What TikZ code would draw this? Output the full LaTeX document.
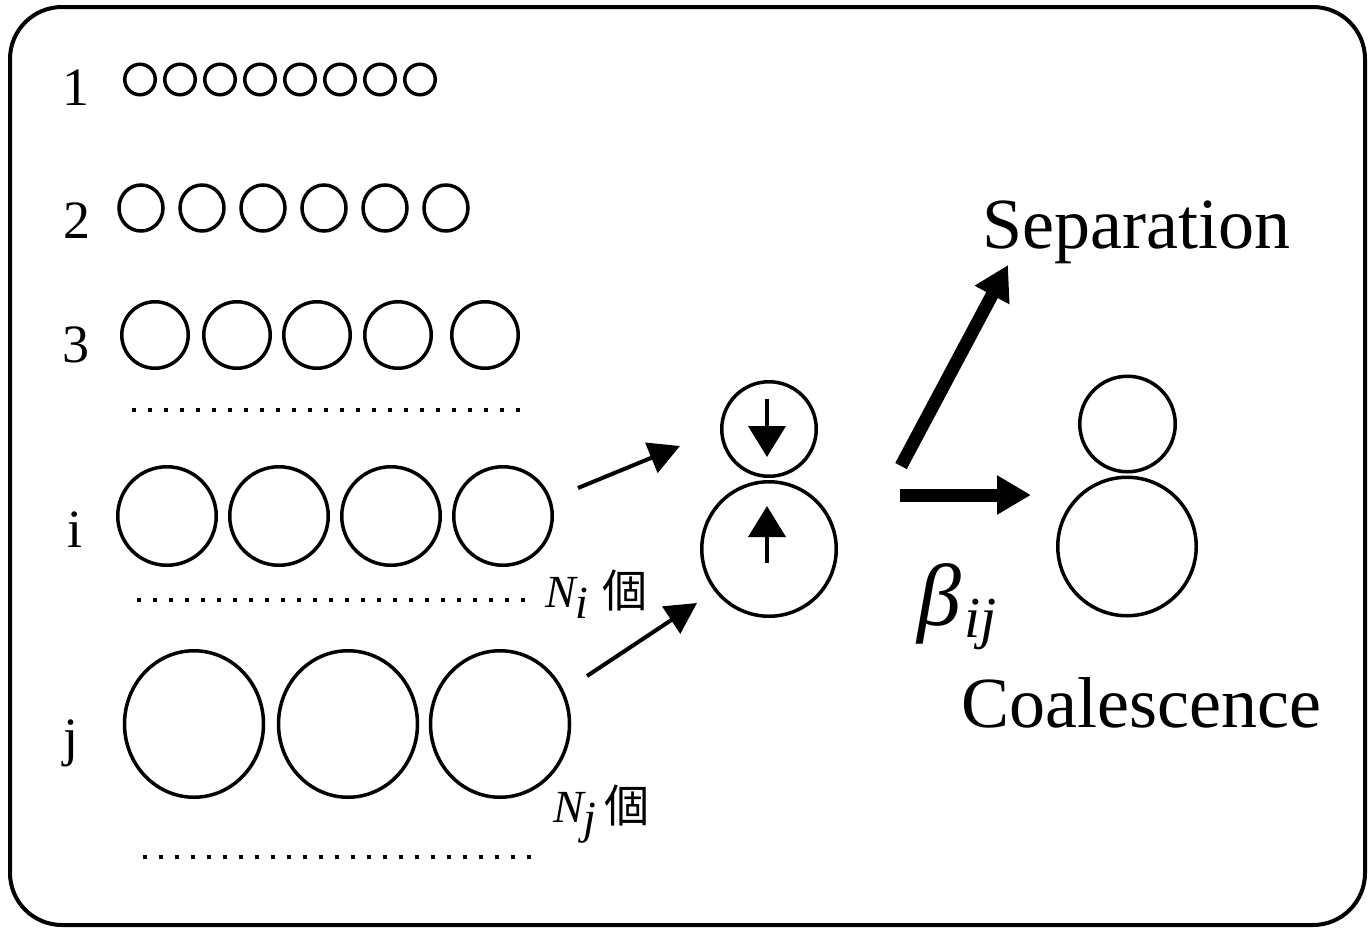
\documentclass[tikz,border=0pt]{standalone}
\usepackage{fontspec}
\setmainfont{Liberation Serif}
\newfontfamily\cjk{Noto Sans CJK JP}
\usetikzlibrary{arrows.meta,shapes.geometric}
\begin{document}
\begin{tikzpicture}[x=1pt,y=-1pt,
  bub/.style={draw, circle, line width=3.5pt, inner sep=0pt, minimum size=#1},
  ebub/.style={draw, ellipse, line width=3.5pt, inner sep=0pt},
  dotrow/.style={line width=3.5pt, dash pattern=on 3.5pt off 12.5pt},
  lab/.style={anchor=base, inner sep=0pt, font=\fontsize{54}{60}\selectfont},
  big/.style={anchor=base west, inner sep=0pt, font=\fontsize{72}{80}\selectfont},
  cnt/.style={anchor=base west, inner sep=0pt},
  thinarrow/.style={line width=4pt, -{Triangle[length=31pt,width=32pt]}},
  innerarrow/.style={line width=4pt, -{Triangle[length=31pt,width=37pt]}},
  fatarrow/.style={line width=13pt, -{Triangle[length=34pt,width=37pt]}},
]
\useasboundingbox (0,0) rectangle (1368,929);
\draw[line width=4pt, rounded corners=52pt] (10,7) rectangle (1365,925);

% row labels
\node[lab] (l1) at (76,105) {1};
\node[lab] (l2) at (77,238) {2};
\node[lab] (l3) at (76,362) {3};
\node[lab] (li) at (75,547) {i};
\node[lab] (lj) at (71,755) {j};

% row 1
\foreach \k in {0,...,7}
  \node[bub=30.5pt] (a\k) at ({140+40*\k},79.5) {};
% row 2
\foreach \k in {0,...,5}
  \node[ebub, minimum width=44pt, minimum height=46pt] (b\k) at ({141+61*\k},208) {};
% row 3
\foreach \x [count=\k] in {155,237,317,398,485}
  \node[bub=66.5pt] (c\k) at (\x,335) {};
\draw[dotrow] (132,410) -- (519.5,410);
% row i
\foreach \x [count=\k] in {167,279,391,503}
  \node[bub=98.5pt] (d\k) at (\x,516) {};
\draw[dotrow] (137,600) -- (524.5,600);
\node[cnt] (ni) at (545,607)
  {\fontsize{46}{48}\selectfont\itshape N\raisebox{-11pt}{i}\hspace{14pt}{\cjk\upshape\fontsize{45}{46}\selectfont 個}};
% row j
\foreach \x [count=\k] in {194,348,500}
  \node[ebub, minimum width=139pt, minimum height=146.5pt] (e\k) at (\x,724) {};
\draw[dotrow] (143,857) -- (530.5,857);
\node[cnt] (nj) at (553,822)
  {\fontsize{46}{48}\selectfont\itshape N\raisebox{-11pt}{j}\hspace{8pt}{\cjk\upshape\fontsize{45}{46}\selectfont 個}};

% colliding pair
\node[bub=94.5pt] (ps) at (769,429) {};
\node[bub=134.5pt] (pl) at (769,549) {};
\coordinate (dnA) at (767,399);
\coordinate (dnB) at (767,457);
\coordinate (upA) at (767,563);
\coordinate (upB) at (767,506);
\draw[innerarrow] (dnA) -- (dnB);
\draw[innerarrow] (upA) -- (upB);

% incoming arrows
\coordinate (iA) at (578,488);
\coordinate (iB) at (680,446);
\coordinate (jA) at (587,676);
\coordinate (jB) at (697,603);
\draw[thinarrow] (iA) -- (iB);
\draw[thinarrow] (jA) -- (jB);

% outcome arrows
\coordinate (sA) at (901,466);
\coordinate (sB) at (1008,265);
\coordinate (hA) at (900,495);
\coordinate (hB) at (1031,495);
\draw[fatarrow] (sA) -- (sB);
\draw[fatarrow] (hA) -- (hB);

% coalesced pair
\node[bub=95.5pt] (qs) at (1127.5,424) {};
\node[bub=138.5pt] (ql) at (1127,546.5) {};

% labels
\node[big] (sep) at (982,248) {Separation};
\node[big] (coa) at (961,727) {Coalescence};
\node[cnt] (beta) at (917,625)
  {\fontsize{88}{90}\selectfont\itshape β\hspace{3pt}\raisebox{-12pt}{\fontsize{58}{60}\selectfont ij}};
\end{tikzpicture}
\end{document}
